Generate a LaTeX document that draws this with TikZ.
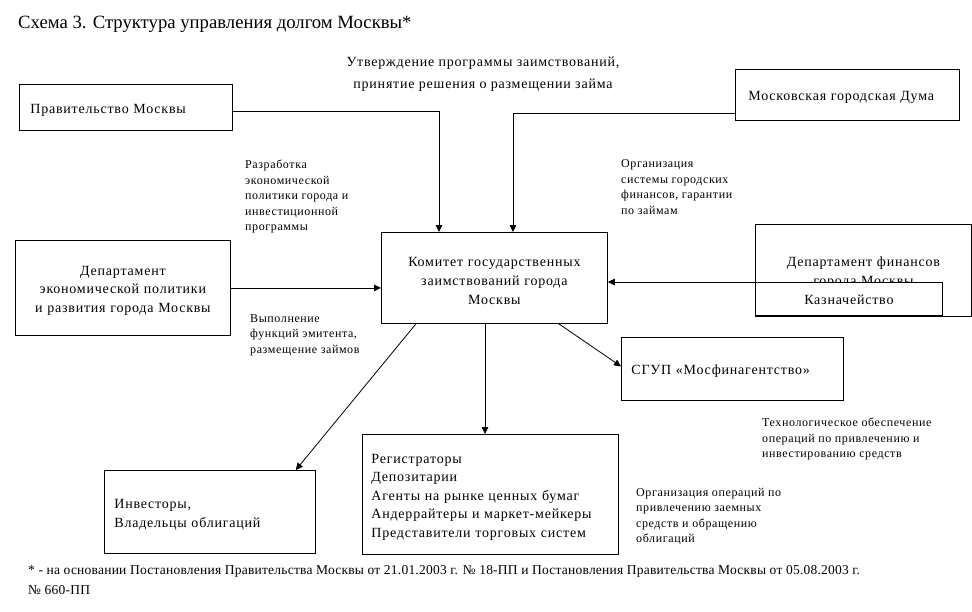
\documentclass[tikz,border=0pt]{standalone}
\usepackage{fontspec}
\setmainfont{Liberation Serif}
\newfontfamily\boxfont[LetterSpace=5.6]{Liberation Serif}
\newfontfamily\smallfont[LetterSpace=5.0]{Liberation Serif}
\newfontfamily\footfont[LetterSpace=1.7]{Liberation Serif}
\usetikzlibrary{arrows.meta}
\begin{document}
\begin{tikzpicture}[x=1pt,y=-1pt,
  box/.style={draw,line width=0.8pt,fill=white,anchor=north west,inner ysep=0pt,font=\boxfont\fontsize{14}{19}\selectfont,text height=15pt},
  lbl/.style={font=\smallfont\fontsize{12}{15.5}\selectfont,align=left,inner sep=0pt,anchor=north west},
  arr/.style={line width=0.8pt,-{Triangle[length=7pt,width=6.5pt]}}
  ]
\useasboundingbox[fill=white] (0,0) rectangle (972,611);
% title
\node[anchor=west,inner sep=0pt,font=\fontsize{18.7}{22}\selectfont] (title) at (18,24) {Схема 3. Структура управления долгом Москвы*};
% boxes
\node[box,minimum width=213pt,minimum height=46pt,text width=191pt,inner xsep=11pt,align=left] (gov) at (19,84) {Правительство Москвы};
\node[box,minimum width=224pt,minimum height=51pt,text width=198pt,inner xsep=13pt,align=left,text height=14pt] (duma) at (735,69) {Московская городская Дума};
\node[box,minimum width=226pt,minimum height=91pt,text width=218pt,inner xsep=4pt,align=center] (com) at (381,232) {Комитет государственных\\заимствований города\\Москвы};
\node[box,minimum width=215pt,minimum height=95pt,text width=211pt,inner xsep=2pt,align=center,font=\boxfont\fontsize{14}{18.5}\selectfont] (econ) at (15,240) {Департамент\\экономической политики\\и развития города Москвы};
\node[box,minimum width=216pt,minimum height=92pt,text width=212pt,inner xsep=2pt,align=center] (fin) at (755,224) {Департамент финансов\\города Москвы};
\node[box,minimum width=187pt,minimum height=33pt,text width=177pt,inner xsep=5pt,align=center,text height=12pt] (kazn) at (755,282) {Казначейство};
\node[box,minimum width=222pt,minimum height=63pt,text width=202pt,inner xsep=10pt,align=left] (sgup) at (621,337) {СГУП «Мосфинагентство»};
\node[box,minimum width=256pt,minimum height=120pt,text width=238pt,inner xsep=9pt,align=left,font=\boxfont\fontsize{14}{18.5}\selectfont] (reg) at (362,434) {Регистраторы\\Депозитарии\\Агенты на рынке ценных бумаг\\Андеррайтеры и маркет-мейкеры\\Представители торговых систем};
\node[box,minimum width=211pt,minimum height=83pt,text width=191pt,inner xsep=10pt,align=left,font=\boxfont\fontsize{14}{18.5}\selectfont] (inv) at (104,470) {Инвесторы,\\Владельцы облигаций};
% labels
\node[inner sep=0pt,align=center,font=\boxfont\fontsize{14}{21.5}\selectfont] (l1) at (483,74) {Утверждение программы заимствований,\\принятие решения о размещении займа};
\node[lbl] (l2) at (245,160) {Разработка\\экономической\\политики города и\\инвестиционной\\программы};
\node[lbl] (l3) at (621,159.5) {Организация\\системы городских\\финансов, гарантии\\по займам};
\node[lbl] (l4) at (250,314) {Выполнение\\функций эмитента,\\размещение займов};
\node[lbl] (l5) at (762,418) {Технологическое обеспечение\\операций по привлечению и\\инвестированию средств};
\node[lbl] (l6) at (636,488) {Организация операций по\\привлечению заемных\\средств и обращению\\облигаций};
\node[inner sep=0pt,align=left,anchor=north west,font=\footfont\fontsize{13.5}{20}\selectfont] (foot) at (28,565) {* - на основании Постановления Правительства Москвы от 21.01.2003 г. № 18-ПП и Постановления Правительства Москвы от 05.08.2003 г.\\№ 660-ПП};
% connectors
\draw[arr] (gov.east |- {(0,111)}) -| ([xshift=58pt]com.north west);
\draw[arr] (duma.west |- {(0,113)}) -| ([xshift=132pt]com.north west);
\draw[arr] (econ.east) -- (com.west |- econ.east);
\draw[arr] (kazn.north west) -- (com.east |- kazn.north west);
\draw[arr] ([xshift=-49pt]com.south east) -- ([yshift=2.5pt]sgup.west);
\path ([xshift=104pt]com.south west) coordinate (cr);
\draw[arr] (cr) -- (cr |- reg.north);
\draw[arr] ([xshift=35pt]com.south west) -- ([xshift=-20pt]inv.north east);
\end{tikzpicture}
\end{document}
